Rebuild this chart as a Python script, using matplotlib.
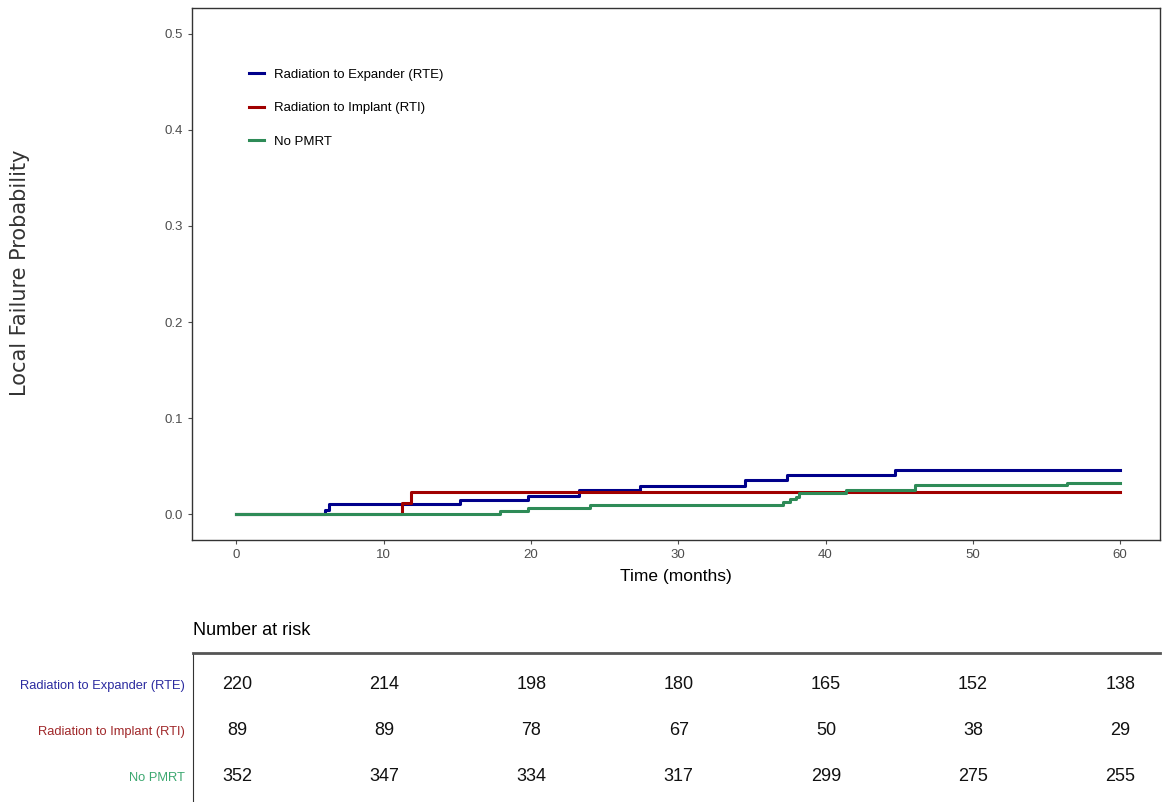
import matplotlib.pyplot as plt
from matplotlib import font_manager

# Cumulative incidence of local failure, step times (months) and levels
rte_t = [0, 6.0, 6.3, 15.2, 19.8, 23.3, 27.4, 34.5, 37.4, 44.7, 60]
rte_p = [0, 0.004, 0.010, 0.0143, 0.0188, 0.025, 0.0295, 0.0354, 0.0406, 0.0458, 0.0458]

rti_t = [0, 11.25, 11.86, 60]
rti_p = [0, 0.0118, 0.0229, 0.0229]

nopmrt_t = [0, 17.9, 19.8, 24.0, 37.1, 37.6, 38.0, 38.2, 41.4, 46.1, 56.4, 60]
nopmrt_p = [0, 0.0031, 0.0059, 0.0094, 0.0122, 0.0153, 0.018, 0.0215, 0.0247, 0.0299, 0.0323, 0.0323]

groups = ["Radiation to Expander (RTE)", "Radiation to Implant (RTI)", "No PMRT"]
colors = ["#00008B", "#A00000", "#2E8B57"]
label_colors = ["#2B2BA0", "#A0282A", "#3CA870"]

risk_times = [0, 10, 20, 30, 40, 50, 60]
risk_rte = [220, 214, 198, 180, 165, 152, 138]
risk_rti = [89, 89, 78, 67, 50, 38, 29]
risk_nopmrt = [352, 347, 334, 317, 299, 275, 255]

installed = {f.name for f in font_manager.fontManager.ttflist}
narrow = "Liberation Sans Narrow" if "Liberation Sans Narrow" in installed else "Liberation Sans"
plt.rcParams['font.family'] = [narrow, 'DejaVu Sans']

fig = plt.figure(figsize=(11.62, 8.02), dpi=100)

# Main curve panel
ax = fig.add_axes([192 / 1162, 1 - 540 / 802, 968 / 1162, 532 / 802])
curves = [(rte_t, rte_p), (rti_t, rti_p), (nopmrt_t, nopmrt_p)]
for (t, p), name, c in zip(curves, groups, colors):
    ax.step(t, p, where='post', color=c, lw=2.2, label=name)

ax.set_xlim(-3, 62.7)
ax.set_ylim(-0.027, 0.527)
ax.set_xticks(risk_times)
ax.set_yticks([0, 0.1, 0.2, 0.3, 0.4, 0.5])
ax.set_yticklabels(["0.0", "0.1", "0.2", "0.3", "0.4", "0.5"])
ax.tick_params(colors="#4d4d4d", labelsize=9.5, length=3, width=0.8)
for s in ax.spines.values():
    s.set_color("#333333")
    s.set_linewidth(1.0)
ax.set_xlabel("Time (months)", fontsize=12.5, labelpad=6)
fig.text(20 / 1162, 1 - 273 / 802, "Local Failure Probability", rotation=90,
         va='center', ha='center', fontsize=15, family='DejaVu Sans', color='#333333')

leg = ax.legend(loc='upper left', bbox_to_anchor=(0.047, 0.908), frameon=False,
                fontsize=9.5, labelspacing=1.6, handlelength=1.1, handletextpad=0.8)

# Number at risk table
tab = fig.add_axes([193 / 1162, 0, 967 / 1162, 149 / 802])
tab.set_xlim(-3, 62.7)
tab.set_ylim(2.565, -0.674)
for row, counts in enumerate([risk_rte, risk_rti, risk_nopmrt]):
    for t, n in zip(risk_times, counts):
        tab.text(t, row, str(n), ha='center', va='center', fontsize=13, color='#111111')
tab.set_xticks([])
tab.set_yticks([0, 1, 2])
tab.set_yticklabels(groups, fontsize=9.3)
for lbl, c in zip(tab.get_yticklabels(), label_colors):
    lbl.set_color(c)
tab.tick_params(axis='y', length=0, pad=6)
tab.spines['right'].set_visible(False)
tab.spines['bottom'].set_visible(False)
tab.spines['top'].set_linewidth(2.0)
tab.spines['top'].set_color("#555555")
tab.spines['left'].set_color("#333333")
tab.set_title("Number at risk", loc='left', fontsize=13, pad=13)

fig.savefig("out.png", dpi=100)
